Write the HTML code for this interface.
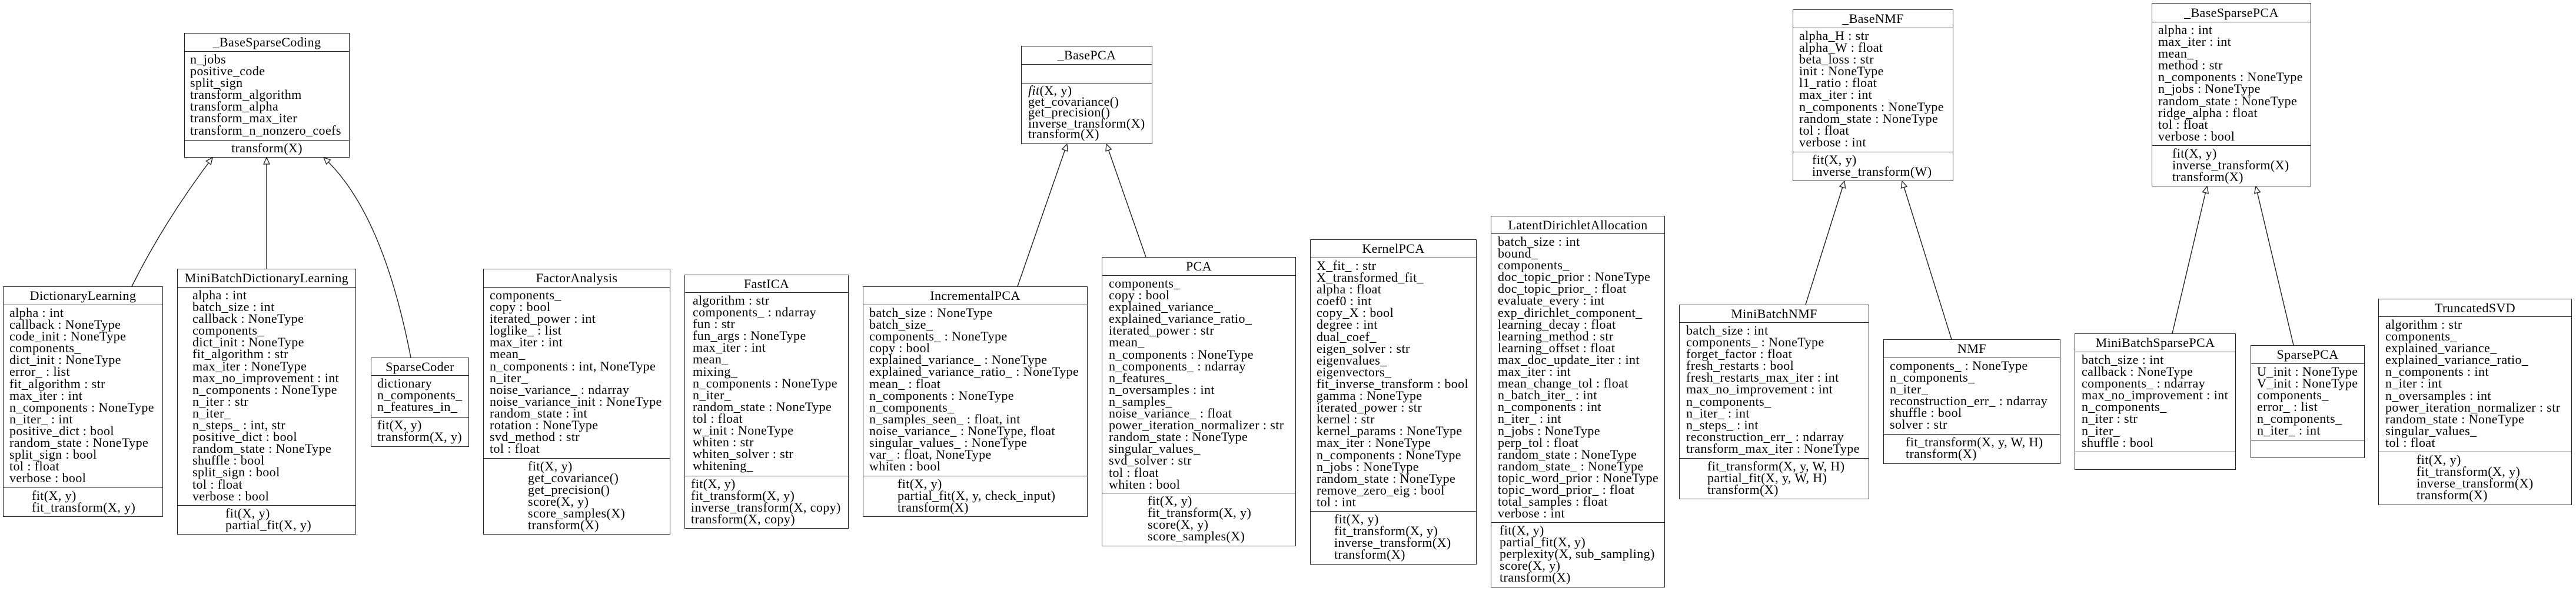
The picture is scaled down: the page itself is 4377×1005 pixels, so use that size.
<!DOCTYPE html>
<html><head><meta charset="utf-8">
<style>
html,body{margin:0;padding:0;background:#fff;}
body{width:4377px;height:1005px;position:relative;overflow:hidden;font-family:"Liberation Serif",serif;font-size:22px;letter-spacing:0.4px;color:#000;}
.b{position:absolute;border:1.5px solid #222;box-sizing:border-box;background:#fff;}
.t{position:absolute;left:0;right:0;top:0;text-align:center;border-bottom:1.5px solid #222;white-space:nowrap;}
.a{position:absolute;white-space:pre;line-height:20.1px;}
.s{position:absolute;left:0;right:0;border-top:1.5px solid #222;}
svg{position:absolute;left:0;top:0;}
</style></head><body>
<svg width="4377" height="1005" viewBox="0 0 4377 1005">
<defs><marker id="ar" markerUnits="userSpaceOnUse" markerWidth="20" markerHeight="20" refX="12" refY="6" orient="auto" viewBox="0 0 20 20"><polygon points="1,1 12,6 1,11" fill="#fff" stroke="#222" stroke-width="1.3"/></marker></defs>
<g fill="none" stroke="#222" stroke-width="1.4" marker-end="url(#ar)">
<path d="M224,487 Q280,375 361,268"/>
<path d="M453,457 L453,268"/>
<path d="M698,608 Q650,360 550,268"/>
<path d="M1729,487 L1813,245"/>
<path d="M1947,437 L1880,245"/>
<path d="M3068,518 L3134,308"/>
<path d="M3316,577 L3232,308"/>
<path d="M3691,567 L3750,317"/>
<path d="M3897,587 L3833,317"/>
</g></svg>

<div class="b" style="left:313px;top:56px;width:281px;height:212px">
<div class="t" style="height:30px;line-height:30px">_BaseSparseCoding</div>
<div class="a" style="top:34px;left:9px">n_jobs
positive_code
split_sign
transform_algorithm
transform_alpha
transform_max_iter
transform_n_nonzero_coefs</div>
<div class="s" style="top:181px"></div>
<div class="a" style="top:185px;left:0;right:0;text-align:center">transform(X)</div>
</div>

<div class="b" style="left:5px;top:487px;width:272px;height:392px">
<div class="t" style="height:30px;line-height:30px">DictionaryLearning</div>
<div class="a" style="top:34px;left:10px">alpha : int
callback : NoneType
code_init : NoneType
components_
dict_init : NoneType
error_ : list
fit_algorithm : str
max_iter : int
n_components : NoneType
n_iter_ : int
positive_dict : bool
random_state : NoneType
split_sign : bool
tol : float
verbose : bool</div>
<div class="s" style="top:341px"></div>
<div class="a" style="top:345px;left:48px">fit(X, y)
fit_transform(X, y)</div>
</div>

<div class="b" style="left:301px;top:457px;width:304px;height:452px">
<div class="t" style="height:30px;line-height:30px">MiniBatchDictionaryLearning</div>
<div class="a" style="top:34px;left:25px">alpha : int
batch_size : int
callback : NoneType
components_
dict_init : NoneType
fit_algorithm : str
max_iter : NoneType
max_no_improvement : int
n_components : NoneType
n_iter : str
n_iter_
n_steps_ : int, str
positive_dict : bool
random_state : NoneType
shuffle : bool
split_sign : bool
tol : float
verbose : bool</div>
<div class="s" style="top:401px"></div>
<div class="a" style="top:405px;left:81px">fit(X, y)
partial_fit(X, y)</div>
</div>

<div class="b" style="left:630px;top:608px;width:167px;height:152px">
<div class="t" style="height:29px;line-height:29px">SparseCoder</div>
<div class="a" style="top:33px;left:10px">dictionary
n_components_
n_features_in_</div>
<div class="s" style="top:100px"></div>
<div class="a" style="top:104px;left:10px">fit(X, y)
transform(X, y)</div>
</div>

<div class="b" style="left:821px;top:457px;width:318px;height:452px">
<div class="t" style="height:30px;line-height:30px">FactorAnalysis</div>
<div class="a" style="top:34px;left:10px">components_
copy : bool
iterated_power : int
loglike_ : list
max_iter : int
mean_
n_components : int, NoneType
n_iter_
noise_variance_ : ndarray
noise_variance_init : NoneType
random_state : int
rotation : NoneType
svd_method : str
tol : float</div>
<div class="s" style="top:321px"></div>
<div class="a" style="top:325px;left:75px">fit(X, y)
get_covariance()
get_precision()
score(X, y)
score_samples(X)
transform(X)</div>
</div>

<div class="b" style="left:1163px;top:467px;width:279px;height:432px">
<div class="t" style="height:29px;line-height:29px">FastICA</div>
<div class="a" style="top:33px;left:13px">algorithm : str
components_ : ndarray
fun : str
fun_args : NoneType
max_iter : int
mean_
mixing_
n_components : NoneType
n_iter_
random_state : NoneType
tol : float
w_init : NoneType
whiten : str
whiten_solver : str
whitening_</div>
<div class="s" style="top:341px"></div>
<div class="a" style="top:345px;left:10px">fit(X, y)
fit_transform(X, y)
inverse_transform(X, copy)
transform(X, copy)</div>
</div>

<div class="b" style="left:1735px;top:78px;width:223px;height:167px">
<div class="t" style="height:30px;line-height:30px">_BasePCA</div>
<div class="s" style="top:63px"></div>
<div class="a" style="top:66px;left:11px;line-height:18.6px"><i>fit</i>(X, y)
get_covariance()
get_precision()
inverse_transform(X)
transform(X)</div>
</div>

<div class="b" style="left:1466px;top:487px;width:382px;height:392px">
<div class="t" style="height:30px;line-height:30px">IncrementalPCA</div>
<div class="a" style="top:34px;left:10px">batch_size : NoneType
batch_size_
components_ : NoneType
copy : bool
explained_variance_ : NoneType
explained_variance_ratio_ : NoneType
mean_ : float
n_components : NoneType
n_components_
n_samples_seen_ : float, int
noise_variance_ : NoneType, float
singular_values_ : NoneType
var_ : float, NoneType
whiten : bool</div>
<div class="s" style="top:321px"></div>
<div class="a" style="top:325px;left:58px">fit(X, y)
partial_fit(X, y, check_input)
transform(X)</div>
</div>

<div class="b" style="left:1872px;top:437px;width:330px;height:492px">
<div class="t" style="height:30px;line-height:30px">PCA</div>
<div class="a" style="top:34px;left:11px">components_
copy : bool
explained_variance_
explained_variance_ratio_
iterated_power : str
mean_
n_components : NoneType
n_components_ : ndarray
n_features_
n_oversamples : int
n_samples_
noise_variance_ : float
power_iteration_normalizer : str
random_state : NoneType
singular_values_
svd_solver : str
tol : float
whiten : bool</div>
<div class="s" style="top:400px"></div>
<div class="a" style="top:404px;left:77px">fit(X, y)
fit_transform(X, y)
score(X, y)
score_samples(X)</div>
</div>

<div class="b" style="left:2226px;top:407px;width:283px;height:553px">
<div class="t" style="height:30px;line-height:30px">KernelPCA</div>
<div class="a" style="top:34px;left:10px">X_fit_ : str
X_transformed_fit_
alpha : float
coef0 : int
copy_X : bool
degree : int
dual_coef_
eigen_solver : str
eigenvalues_
eigenvectors_
fit_inverse_transform : bool
gamma : NoneType
iterated_power : str
kernel : str
kernel_params : NoneType
max_iter : NoneType
n_components : NoneType
n_jobs : NoneType
random_state : NoneType
remove_zero_eig : bool
tol : int</div>
<div class="s" style="top:461px"></div>
<div class="a" style="top:465px;left:40px">fit(X, y)
fit_transform(X, y)
inverse_transform(X)
transform(X)</div>
</div>

<div class="b" style="left:2533px;top:367px;width:296px;height:632px">
<div class="t" style="height:29px;line-height:29px">LatentDirichletAllocation</div>
<div class="a" style="top:33px;left:11px">batch_size : int
bound_
components_
doc_topic_prior : NoneType
doc_topic_prior_ : float
evaluate_every : int
exp_dirichlet_component_
learning_decay : float
learning_method : str
learning_offset : float
max_doc_update_iter : int
max_iter : int
mean_change_tol : float
n_batch_iter_ : int
n_components : int
n_iter_ : int
n_jobs : NoneType
perp_tol : float
random_state : NoneType
random_state_ : NoneType
topic_word_prior : NoneType
topic_word_prior_ : float
total_samples : float
verbose : int</div>
<div class="s" style="top:520px"></div>
<div class="a" style="top:524px;left:14px">fit(X, y)
partial_fit(X, y)
perplexity(X, sub_sampling)
score(X, y)
transform(X)</div>
</div>

<div class="b" style="left:3046px;top:16px;width:273px;height:292px">
<div class="t" style="height:30px;line-height:30px">_BaseNMF</div>
<div class="a" style="top:34px;left:10px">alpha_H : str
alpha_W : float
beta_loss : str
init : NoneType
l1_ratio : float
max_iter : int
n_components : NoneType
random_state : NoneType
tol : float
verbose : int</div>
<div class="s" style="top:241px"></div>
<div class="a" style="top:245px;left:32px">fit(X, y)
inverse_transform(W)</div>
</div>

<div class="b" style="left:2853px;top:518px;width:323px;height:331px">
<div class="t" style="height:29px;line-height:29px">MiniBatchNMF</div>
<div class="a" style="top:33px;left:11px">batch_size : int
components_ : NoneType
forget_factor : float
fresh_restarts : bool
fresh_restarts_max_iter : int
max_no_improvement : int
n_components_
n_iter_ : int
n_steps_ : int
reconstruction_err_ : ndarray
transform_max_iter : NoneType</div>
<div class="s" style="top:260px"></div>
<div class="a" style="top:264px;left:47px">fit_transform(X, y, W, H)
partial_fit(X, y, W, H)
transform(X)</div>
</div>

<div class="b" style="left:3200px;top:577px;width:301px;height:212px">
<div class="t" style="height:30px;line-height:30px">NMF</div>
<div class="a" style="top:34px;left:10px">components_ : NoneType
n_components_
n_iter_
reconstruction_err_ : ndarray
shuffle : bool
solver : str</div>
<div class="s" style="top:160px"></div>
<div class="a" style="top:164px;left:37px">fit_transform(X, y, W, H)
transform(X)</div>
</div>

<div class="b" style="left:3525px;top:567px;width:274px;height:232px">
<div class="t" style="height:30px;line-height:30px">MiniBatchSparsePCA</div>
<div class="a" style="top:34px;left:11px">batch_size : int
callback : NoneType
components_ : ndarray
max_no_improvement : int
n_components_
n_iter : str
n_iter_
shuffle : bool</div>
<div class="s" style="top:200px"></div>
</div>

<div class="b" style="left:3656px;top:5px;width:271px;height:312px">
<div class="t" style="height:31px;line-height:31px">_BaseSparsePCA</div>
<div class="a" style="top:35px;left:10px">alpha : int
max_iter : int
mean_
method : str
n_components : NoneType
n_jobs : NoneType
random_state : NoneType
ridge_alpha : float
tol : float
verbose : bool</div>
<div class="s" style="top:241px"></div>
<div class="a" style="top:245px;left:34px">fit(X, y)
inverse_transform(X)
transform(X)</div>
</div>

<div class="b" style="left:3824px;top:587px;width:194px;height:192px">
<div class="t" style="height:30px;line-height:30px">SparsePCA</div>
<div class="a" style="top:34px;left:10px">U_init : NoneType
V_init : NoneType
components_
error_ : list
n_components_
n_iter_ : int</div>
<div class="s" style="top:160px"></div>
</div>

<div class="b" style="left:4041px;top:508px;width:329px;height:351px">
<div class="t" style="height:29px;line-height:29px">TruncatedSVD</div>
<div class="a" style="top:33px;left:11px">algorithm : str
components_
explained_variance_
explained_variance_ratio_
n_components : int
n_iter : int
n_oversamples : int
power_iteration_normalizer : str
random_state : NoneType
singular_values_
tol : float</div>
<div class="s" style="top:259px"></div>
<div class="a" style="top:263px;left:64px">fit(X, y)
fit_transform(X, y)
inverse_transform(X)
transform(X)</div>
</div>

</body></html>
